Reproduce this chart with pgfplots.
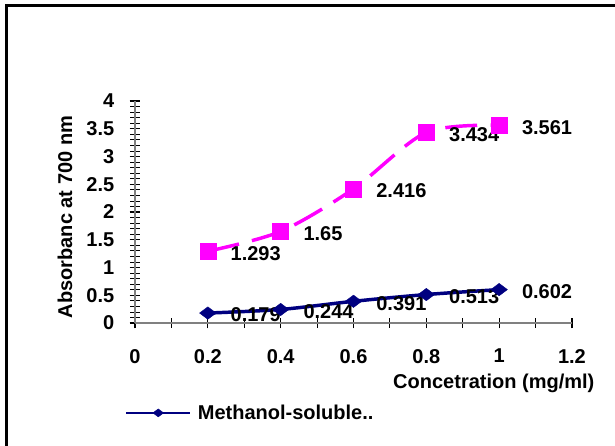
\documentclass[border=0pt]{standalone}
\usepackage{fontspec}
\setmainfont{Liberation Sans}
\usepackage{pgfplots}
\pgfplotsset{compat=1.18}
\definecolor{navyc}{RGB}{0,0,128}
\definecolor{magc}{RGB}{255,0,255}
\newcommand{\cf}{\fontsize{15}{17}\selectfont\bfseries}
\begin{document}
\begin{tikzpicture}
\useasboundingbox (0,0) rectangle (461.25pt,-334.5pt);
\draw[line width=2.25pt] (4.5pt,-334.5pt) -- (4.5pt,-4pt) -- (461.25pt,-4pt);
\begin{axis}[
  anchor=origin, at={(101.25pt,-242.25pt)},
  x=273.1pt, y=41.625pt,
  xmin=0, xmax=1.2, ymin=0, ymax=4,
  enlargelimits=false, clip=false,
  axis lines*=left,
  axis line style={draw=gray, line width=1pt},
  xtick={0,0.2,0.4,0.6,0.8,1,1.2},
  ytick={0,0.5,1,1.5,2,2.5,3,3.5,4},
  minor x tick num=1, minor y tick num=4,
  tick align=center,
  major tick length=8pt, minor tick length=7pt,
  major tick style={black, line width=0.9pt},
  minor tick style={black, line width=0.6pt},
  /pgf/number format/assume math mode=true,
  tick label style={font=\cf},
  xticklabel style={yshift=-12pt},
  yticklabel style={xshift=-8pt},
  label style={font=\cf},
  xlabel={Concetration (mg/ml)},
  ylabel={Absorbanc at 700 nm},
  xlabel style={at={(axis description cs:1.062,-0.272)}, anchor=east},
  ylabel style={at={(axis description cs:-0.16,0.477)}, anchor=center},
  legend style={draw=none, fill=none, font=\cf, at={(axis description cs:-0.023,-0.405)}, anchor=west, inner sep=0pt},
  legend cell align=left,
  legend image code/.code={\draw[#1, line width=1.5pt, mark size=4pt, mark repeat=2, mark phase=2] plot coordinates {(0pt,0pt)(24pt,0pt)(48pt,0pt)};},
  every node near coord/.append style={anchor=west, xshift=17pt, yshift=-1.5pt, inner sep=0pt, font=\cf, text=black},
]
\addplot[color=navyc, line width=2.6pt, smooth, tension=0.5, mark=diamond*, mark size=6.2pt, mark options={rotate=90, solid, line width=0.3pt}, nodes near coords, point meta=explicit symbolic]
  coordinates {(0.2,0.179)[0.179] (0.4,0.244)[0.244] (0.6,0.391)[0.391] (0.8,0.513)[0.513] (1.0,0.602)[0.602]};
\addlegendentry{\hspace{3pt}Methanol-soluble..}
\addplot[color=magc, line width=2.6pt, dash pattern=on 24pt off 10pt, smooth, tension=0.5, mark=square*, mark size=6pt, mark options={solid, line width=0.3pt}, nodes near coords, point meta=explicit symbolic]
  coordinates {(0.2,1.293)[1.293] (0.4,1.65)[1.65] (0.6,2.416)[2.416] (0.8,3.434)[3.434] (1.0,3.561)[3.561]};
\end{axis}
\end{tikzpicture}
\end{document}
